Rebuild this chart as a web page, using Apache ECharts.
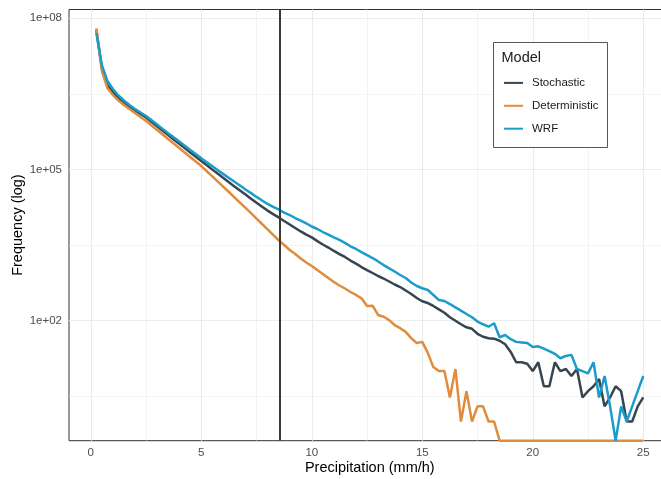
<!DOCTYPE html>
<html><head><meta charset="utf-8">
<script src="https://cdn.jsdelivr.net/npm/echarts@6/dist/echarts.min.js"></script>
<style>html,body{margin:0;padding:0;background:#fff}#c{width:661px;height:479px}</style>
</head><body><div id="c"></div>
<script>
// Precipitation bins (mm/h)
const precipitation = [0.25,0.5,0.75,1,1.25,1.5,1.75,2,2.25,2.5,2.75,3,3.25,3.5,3.75,4,4.25,4.5,4.75,5,
5.25,5.5,5.75,6,6.25,6.5,6.75,7,7.25,7.5,7.75,8,8.25,8.5,8.75,9,9.25,9.5,9.75,10,
10.25,10.5,10.75,11,11.25,11.5,11.75,12,12.25,12.5,12.75,13,13.25,13.5,13.75,14,14.25,14.5,14.75,15,
15.25,15.5,15.75,16,16.25,16.5,16.75,17,17.25,17.5,17.75,18,18.25,18.5,18.75,19,19.25,19.5,19.75,20,
20.25,20.5,20.75,21,21.25,21.5,21.75,22,22.25,22.5,22.75,23,23.25,23.5,23.75,24,24.25,24.5,24.75,25];

// Frequencies (counts)
const stochastic = [5.9e7,1.03e7,4.7e6,3.45e6,2.62e6,2.13e6,1.78e6,1.48e6,1.26e6,1.08e6,
8.8e5,7.2e5,5.9e5,4.84e5,3.95e5,3.24e5,2.66e5,2.18e5,1.79e5,1.47e5,
1.21e5,9.95e4,8.2e4,6.8e4,5.6e4,4.6e4,3.83e4,3.18e4,2.64e4,2.19e4,
1.83e4,1.53e4,1.30e4,1.12e4,9500,8100,6900,5900,5100,4500,
3800,3250,2830,2420,2100,1840,1560,1360,1160,1010,
884,771,687,600,523,466,397,339,282,243,
224,196,168,144,117,100,85,74,69,55,
48,45,44,40,34,24,15,15,14,10,
15,5,5,15,10,11,8,11,3,4,
5,7,2,3,5,4,1,1,2,3];

const deterministic = [6.3e7,9.0e6,4.14e6,3.0e6,2.34e6,1.9e6,1.58e6,1.32e6,1.1e6,9.2e5,
7.5e5,6.1e5,4.95e5,4.03e5,3.28e5,2.67e5,2.17e5,1.77e5,1.44e5,1.17e5,
9.25e4,7.3e4,5.75e4,4.54e4,3.58e4,2.81e4,2.2e4,1.73e4,1.36e4,1.06e4,
8300,6500,5060,3950,3180,2530,2100,1710,1430,1220,
1010,845,703,586,499,435,371,324,278,196,
199,130,120,103,82,71,60,45,36,38,
23,12,10,10,3,11,1,4,1,2,
2,1,1,0,0,0,0,0,0,0,
0,0,0,0,0,0,0,0,0,0,
0,0,0,0,0,0,0,0,0,0];

const wrf = [5.1e7,1.18e7,5.7e6,3.95e6,2.94e6,2.34e6,1.9e6,1.58e6,1.35e6,1.15e6,
9.46e5,7.78e5,6.4e5,5.27e5,4.35e5,3.6e5,2.97e5,2.45e5,2.03e5,1.68e5,
1.4e5,1.16e5,9.7e4,8.1e4,6.8e4,5.7e4,4.8e4,4.0e4,3.4e4,2.86e4,
2.43e4,2.07e4,1.82e4,1.61e4,1.40e4,1.25e4,1.09e4,9700,8500,7400,
6600,5750,5100,4500,4000,3500,3000,2650,2300,2000,
1750,1500,1270,1090,946,807,703,573,488,440,
407,324,258,246,214,184,158,136,117,96,
85,76,89,47,52,43,38,37,36,30,
31,28,25,22,18,20,21,11,10,9,
15,3,8,2,0,2,1,2,4,8];

const seriesNames = ['Stochastic','Deterministic','WRF'];
const seriesColors = ['#36454f','#df8c3b','#1b9dcc'];
const xTickValues = [0,5,10,15,20,25];
const xMinorGrid = [2.5,7.5,12.5,17.5,22.5];
const yTickExponents = [2,5,8];
const yTickLabels = ['1e+02','1e+05','1e+08'];
const yMinorGrid = [0.5,3.5,6.5];
const threshold = 8.57;

const xMin = -0.9875, xMax = 26.2375;
const yMin = -0.381, yMax = 8.175;
const FONT = 'Liberation Sans';

function toPairs(vals){
  return precipitation.map((x,i)=>[x, vals[i] > 0 ? Math.log10(vals[i]) : yMin]);
}

const gridLines = [];
xTickValues.forEach(v=>gridLines.push({xAxis:v, lineStyle:{color:'#ebebeb', width:1.1, type:'solid'}}));
xMinorGrid.forEach(v=>gridLines.push({xAxis:v, lineStyle:{color:'#ededed', width:0.6, type:'solid'}}));
yTickExponents.forEach(v=>gridLines.push({yAxis:v, lineStyle:{color:'#ebebeb', width:1.1, type:'solid'}}));
yMinorGrid.forEach(v=>gridLines.push({yAxis:v, lineStyle:{color:'#ededed', width:0.6, type:'solid'}}));

const dataSets = [stochastic, deterministic, wrf];

const chart = echarts.init(document.getElementById('c'), null, {renderer:'canvas'});
chart.setOption({
  animation:false,
  backgroundColor:'#ffffff',
  grid:{left:69, top:9.5, width:601.6, height:431.2, show:true, borderColor:'#333333', borderWidth:1,
    backgroundColor:'transparent', containLabel:false, outerBoundsMode:'none'},
  xAxis:{type:'value', min:xMin, max:xMax,
    axisLine:{show:false}, splitLine:{show:false},
    axisTick:{show:true, length:4, lineStyle:{color:'#333333'}, customValues:xTickValues},
    axisLabel:{color:'#4d4d4d', fontSize:11.5, fontFamily:FONT, margin:6, customValues:xTickValues},
    name:'Precipitation (mm/h)', nameLocation:'middle', nameGap:19.5, nameMoveOverlap:false,
    nameTextStyle:{color:'#000', fontSize:14.5, fontFamily:FONT}},
  yAxis:{type:'value', min:yMin, max:yMax,
    axisLine:{show:false}, splitLine:{show:false},
    axisTick:{show:true, length:4, lineStyle:{color:'#333333'}, customValues:yTickExponents},
    axisLabel:{color:'#4d4d4d', fontSize:11.5, fontFamily:FONT, margin:7, customValues:yTickExponents,
      formatter:(v)=>{const i=yTickExponents.indexOf(Math.round(v)); return i>=0?yTickLabels[i]:'';}},
    name:'Frequency (log)', nameLocation:'middle', nameGap:43.5, nameRotate:90, nameMoveOverlap:false,
    nameTextStyle:{color:'#000', fontSize:14.5, fontFamily:FONT}},
  legend:{orient:'vertical', left:503, top:76.9, padding:0, itemWidth:19, itemHeight:14, itemGap:10.9,
    data:seriesNames, z:10, selectedMode:false,
    itemStyle:{opacity:0},
    textStyle:{fontSize:11.5, color:'#1a1a1a', fontFamily:FONT, padding:[0,0,0,4]}},
  graphic:[
    {type:'rect', z:8, shape:{x:493.5, y:42.5, width:114, height:105}, style:{fill:'#ffffff', stroke:'#555555', lineWidth:1}},
    {type:'text', z:10, x:501.5, y:58, style:{text:'Model', fill:'#1a1a1a', font:'14.5px "Liberation Sans"', verticalAlign:'middle', align:'left'}}
  ],
  series:[
    {name:'grid', type:'line', data:[], z:1, silent:true,
      markLine:{silent:true, z:1, symbol:'none', animation:false, label:{show:false}, data:gridLines}},
    ...seriesNames.map((n,i)=>({name:n, type:'line', data:toPairs(dataSets[i]), z:3+i,
      symbol:'none', showSymbol:false, clip:true,
      lineStyle:{color:seriesColors[i], width:2.5}, itemStyle:{color:seriesColors[i]}})),
    {name:'threshold', type:'line', data:[], z:7, silent:true,
      markLine:{silent:true, z:7, symbol:'none', animation:false, label:{show:false},
        data:[{xAxis:threshold, lineStyle:{color:'#3a3a3a', width:2, type:'solid'}}]}}
  ]
});
</script>
</body></html>
